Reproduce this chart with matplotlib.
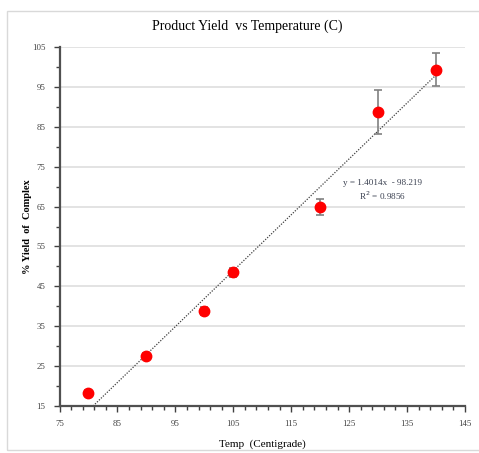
import numpy as np
import matplotlib.pyplot as plt
from matplotlib.patches import Rectangle

# data
temps = [80, 90, 100, 105, 120, 130, 140]
yields = [18.2, 27.6, 38.9, 48.5, 64.8, 88.7, 99.3]
errors = [0.8, 0.8, 1.0, 1.2, 2.0, 5.4, 4.2]

slope = 1.4014
intercept = -98.219
r2 = 0.9856

plt.rcParams['font.family'] = ['Liberation Serif', 'DejaVu Serif']

fig = plt.figure(figsize=(4.79, 4.53), dpi=100)

# outer chart frame
fig.patches.append(Rectangle((7 / 479, 3 / 453), 1.2, 439 / 453, transform=fig.transFigure,
                             fill=False, edgecolor='#d9d9d9', linewidth=1.0))

ax = fig.add_axes([59.5 / 479, 1 - 406 / 453, 405.5 / 479, 359 / 453])

ax.set_xlim(75, 145)
ax.set_ylim(15, 105)
ax.set_xticks(np.arange(75, 146, 10))
ax.set_yticks(np.arange(15, 106, 10))
ax.set_xticks(np.arange(75, 146, 2), minor=True)
ax.set_yticks(np.arange(15, 106, 5), minor=True)

ax.grid(axis='y', color='#dedede', linewidth=1.2)
ax.set_axisbelow(True)

for side in ['top', 'right']:
    ax.spines[side].set_visible(False)
for side in ['left', 'bottom']:
    ax.spines[side].set_color('#505050')
    ax.spines[side].set_linewidth(1.6)

ax.tick_params(which='major', direction='out', length=4, width=1, color='#404040',
               labelsize=6.3, labelcolor='#404040', pad=6)
ax.tick_params(which='minor', direction='out', length=3, width=1, color='#404040')

# trend line
xt = np.array([(15 - intercept) / slope, max(temps)])
ax.plot(xt, slope * xt + intercept, linestyle=(0, (1, 1.2)), color='#404040', linewidth=0.9)

ax.errorbar(temps, yields, yerr=errors, fmt='o', color='red', markersize=7.5,
            ecolor='#808080', elinewidth=1.2, capsize=3, capthick=1.2, zorder=3)

ax.text(130.8, 70.8, 'y = %.4fx  - %.3f' % (slope, -intercept), fontsize=6.6,
        color='#3a4050', ha='center', va='center')
ax.text(130.8, 67.8, 'R$^2$ = %.4f' % r2, fontsize=6.6, color='#3a4050',
        ha='center', va='center')

fig.text(247 / 479, 1 - 26 / 453, 'Product Yield  vs Temperature (C)', fontsize=10,
         ha='center', va='center')
ax.set_xlabel('Temp  (Centigrade)', fontsize=8, labelpad=8)
ax.set_ylabel('% Yield  of  Complex', fontsize=7.5, fontweight='bold', labelpad=0)

fig.savefig('out.png', dpi=100)
